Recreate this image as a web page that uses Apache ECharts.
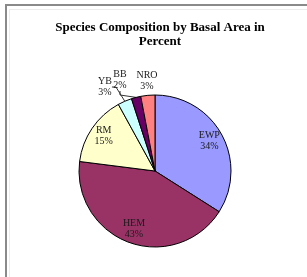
<!DOCTYPE html>
<html>
<head>
<meta charset="utf-8">
<script src="https://cdn.jsdelivr.net/npm/echarts@6/dist/echarts.min.js"></script>
<style>
  html, body { margin: 0; padding: 0; background: #fff; }
  #chart { width: 307px; height: 277px; }
</style>
</head>
<body>
<div id="chart"></div>
<script>
// 树种基面积占比
const species = ['EWP', 'HEM', 'RM', 'YB', 'BB', 'NRO'];
const percents = [34, 43, 15, 3, 2, 3];
const colors = ['#9999FF', '#993366', '#FFFFCC', '#CCFFFF', '#660066', '#FF8080'];
const insideLabels = ['EWP', 'HEM', 'RM']; // 大扇区标签在内部

// 小扇区外部标签的位置
const outsideLabelPos = {
  YB: [105, 87],
  BB: [120, 80],
  NRO: [147, 81]
};

const chart = echarts.init(document.getElementById('chart'));

const center = [155, 171];
const radius = 76;
const labelFont = {
  fontFamily: 'Liberation Serif',
  fontSize: 10,
  color: '#1a1a1a',
  lineHeight: 11
};

const option = {
  animation: false,
  title: {
    text: 'Species Composition by Basal Area in\nPercent',
    left: 155,
    textAlign: 'center',
    top: 16,
    textStyle: {
      fontFamily: 'Liberation Serif',
      fontSize: 13,
      fontWeight: 'bold',
      color: '#000',
      lineHeight: 14
    }
  },
  graphic: [
    // 外框
    { type: 'rect', shape: { x: 5, y: 4, width: 310, height: 2 }, style: { fill: '#8a8a8a' } },
    { type: 'rect', shape: { x: 5, y: 4, width: 2, height: 280 }, style: { fill: '#8a8a8a' } },
    { type: 'rect', shape: { x: 9, y: 9, width: 300, height: 1 }, style: { fill: '#ececec' } },
    { type: 'rect', shape: { x: 9, y: 9, width: 1, height: 280 }, style: { fill: '#ececec' } }
  ],
  series: [
    {
      type: 'pie',
      center: center,
      radius: [0, radius],
      startAngle: 90,
      clockwise: true,
      avoidLabelOverlap: false,
      itemStyle: { borderColor: '#000', borderWidth: 1 },
      label: Object.assign({
        show: true,
        position: 'outside',
        formatter: p => insideLabels.includes(p.name) ? '' : p.name + '\n' + p.value + '%'
      }, labelFont),
      labelLine: { show: true, length: 4, length2: 4, lineStyle: { color: '#333', width: 1 } },
      labelLayout: params => {
        const pos = outsideLabelPos[species[params.dataIndex]];
        if (!pos) return {};
        return { x: pos[0], y: pos[1], align: 'center', verticalAlign: 'middle', hideOverlap: false };
      },
      emphasis: { disabled: true },
      data: species.map((name, i) => ({
        name: name,
        value: percents[i],
        itemStyle: { color: colors[i] },
        labelLine: { show: name === 'YB' || name === 'BB' }
      }))
    },
    {
      // 透明环，用于放置内部标签
      type: 'pie',
      center: center,
      radius: [42, radius],
      startAngle: 90,
      clockwise: true,
      silent: true,
      itemStyle: { color: 'rgba(0,0,0,0)', borderWidth: 0 },
      label: Object.assign({
        show: true,
        position: 'inside',
        formatter: p => insideLabels.includes(p.name) ? p.name + '\n' + p.value + '%' : ''
      }, labelFont),
      labelLine: { show: false },
      data: species.map((name, i) => ({ name: name, value: percents[i] }))
    }
  ]
};

chart.setOption(option);
</script>
</body>
</html>
